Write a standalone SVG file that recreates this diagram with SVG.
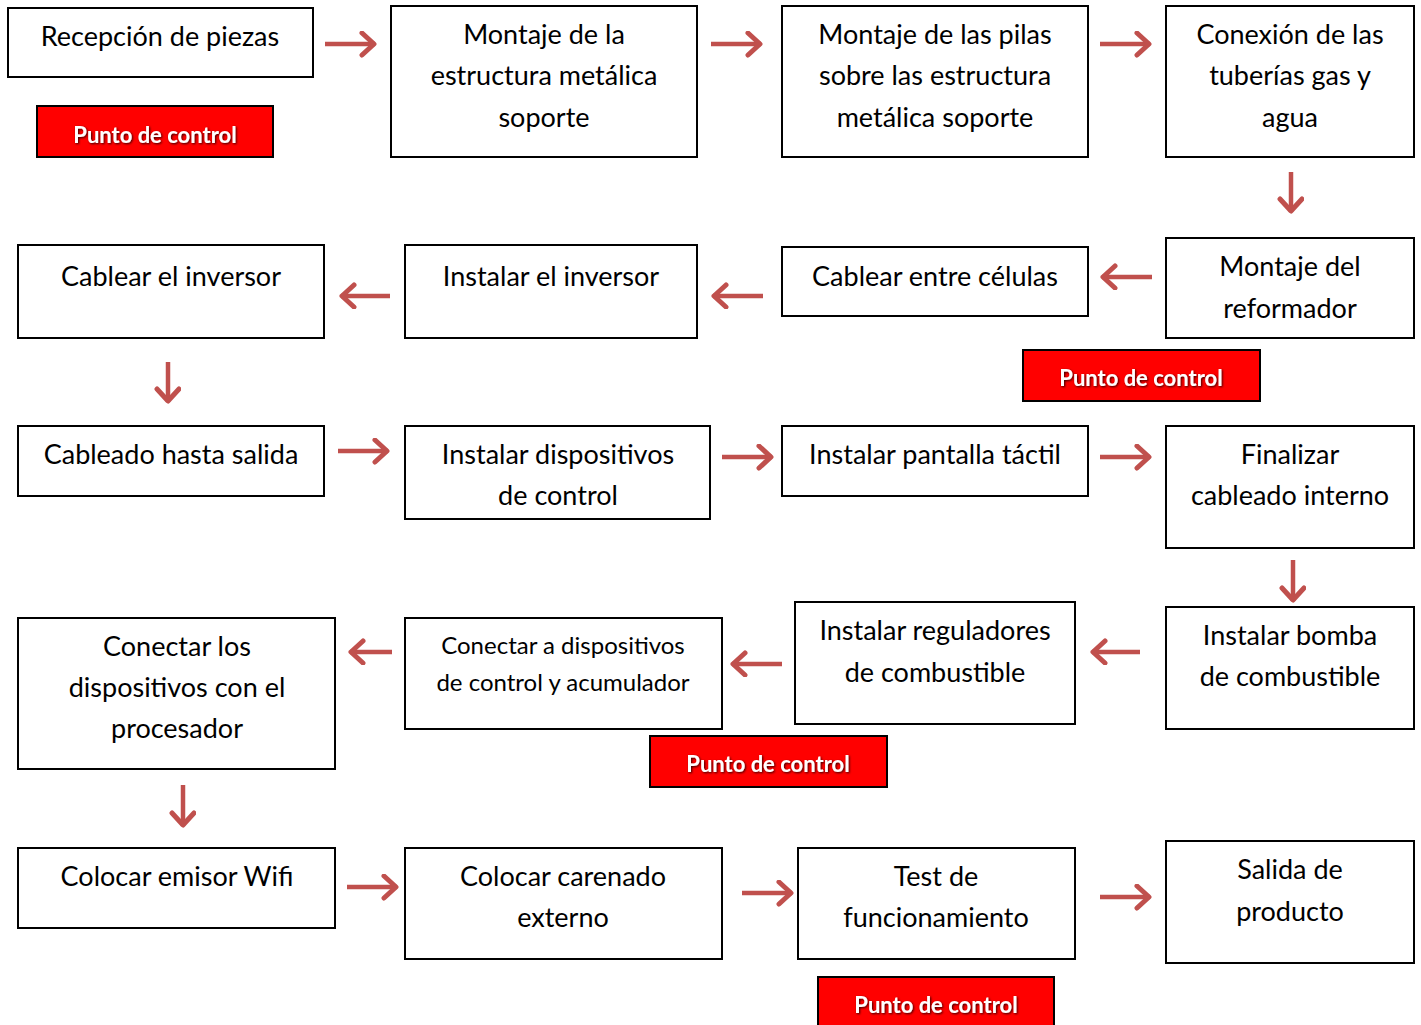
<svg xmlns="http://www.w3.org/2000/svg" width="1421" height="1025" viewBox="0 0 1421 1025">
<defs>
<style>
.box{fill:#fff;stroke:#000;stroke-width:2}
.t{font-family:Lato,"Open Sans",sans-serif;font-size:27px;fill:#000;text-anchor:middle}
.ts{font-family:Lato,"Open Sans",sans-serif;font-size:24px;fill:#000;text-anchor:middle}
.red{fill:#ff0000;stroke:#000;stroke-width:2}
.pc{font-family:Lato,"Open Sans",sans-serif;font-size:22px;font-weight:bold;fill:#fff;text-anchor:middle;filter:url(#sh)}
.arr{stroke:#C0504D;stroke-width:4.5;fill:none;marker-end:url(#ah)}
</style>
<filter id="sh" x="-10%" y="-30%" width="120%" height="160%">
<feDropShadow dx="1" dy="1" stdDeviation="0.8" flood-color="#000" flood-opacity="0.8"/>
</filter>
<marker id="ah" markerUnits="userSpaceOnUse" markerWidth="24" markerHeight="30" refX="16" refY="13" orient="auto">
<path d="M3,2 L15,13 L3,24" fill="none" stroke="#C0504D" stroke-width="5" stroke-linecap="round" stroke-linejoin="round"/>
</marker>
</defs>

<g id="connectors">
<line class="arr" x1="325" y1="44" x2="375" y2="44"/>
<line class="arr" x1="711" y1="44" x2="761" y2="44"/>
<line class="arr" x1="1100" y1="44" x2="1150" y2="44"/>
<line class="arr" x1="1291" y1="172" x2="1291" y2="212"/>
<line class="arr" x1="1152" y1="277" x2="1102" y2="277"/>
<line class="arr" x1="763" y1="296" x2="713" y2="296"/>
<line class="arr" x1="390" y1="296" x2="341" y2="296"/>
<line class="arr" x1="168" y1="362" x2="168" y2="402"/>
<line class="arr" x1="338" y1="451" x2="388" y2="451"/>
<line class="arr" x1="722" y1="457" x2="772" y2="457"/>
<line class="arr" x1="1100" y1="457" x2="1150" y2="457"/>
<line class="arr" x1="1293" y1="560" x2="1293" y2="601"/>
<line class="arr" x1="1140" y1="652" x2="1092" y2="652"/>
<line class="arr" x1="782" y1="664" x2="732" y2="664"/>
<line class="arr" x1="392" y1="652" x2="350" y2="652"/>
<line class="arr" x1="183" y1="785" x2="183" y2="826"/>
<line class="arr" x1="347" y1="887" x2="397" y2="887"/>
<line class="arr" x1="742" y1="893" x2="792" y2="893"/>
<line class="arr" x1="1100" y1="897" x2="1150" y2="897"/>
</g>

<g id="n1"><rect class="box" x="8" y="8" width="305" height="69"/><text class="t" x="160" y="46">Recepción de piezas</text></g>
<g id="pc1"><rect class="red" x="37" y="106" width="236" height="51"/><text class="pc" x="155" y="143">Punto de control</text></g>
<g id="n2"><rect class="box" x="391" y="6" width="306" height="151"/><text class="t" x="544" y="44">Montaje de la</text><text class="t" x="544" y="85">estructura metálica</text><text class="t" x="544" y="127">soporte</text></g>
<g id="n3"><rect class="box" x="782" y="6" width="306" height="151"/><text class="t" x="935" y="44">Montaje de las pilas</text><text class="t" x="935" y="85">sobre las estructura</text><text class="t" x="935" y="127">metálica soporte</text></g>
<g id="n4"><rect class="box" x="1166" y="6" width="248" height="151"/><text class="t" x="1290" y="44">Conexión de las</text><text class="t" x="1290" y="85">tuberías gas y</text><text class="t" x="1290" y="127">agua</text></g>

<g id="n5"><rect class="box" x="1166" y="238" width="248" height="100"/><text class="t" x="1290" y="276">Montaje del</text><text class="t" x="1290" y="318">reformador</text></g>
<g id="pc2"><rect class="red" x="1023" y="350" width="237" height="51"/><text class="pc" x="1141" y="386">Punto de control</text></g>
<g id="n6"><rect class="box" x="782" y="247" width="306" height="69"/><text class="t" x="935" y="286">Cablear entre células</text></g>
<g id="n7"><rect class="box" x="405" y="245" width="292" height="93"/><text class="t" x="551" y="286">Instalar el inversor</text></g>
<g id="n8"><rect class="box" x="18" y="245" width="306" height="93"/><text class="t" x="171" y="286">Cablear el inversor</text></g>

<g id="n9"><rect class="box" x="18" y="426" width="306" height="70"/><text class="t" x="171" y="464">Cableado hasta salida</text></g>
<g id="n10"><rect class="box" x="405" y="426" width="305" height="93"/><text class="t" x="558" y="464">Instalar dispositivos</text><text class="t" x="558" y="505">de control</text></g>
<g id="n11"><rect class="box" x="782" y="426" width="306" height="70"/><text class="t" x="935" y="464">Instalar pantalla táctil</text></g>
<g id="n12"><rect class="box" x="1166" y="426" width="248" height="122"/><text class="t" x="1290" y="464">Finalizar</text><text class="t" x="1290" y="505">cableado interno</text></g>

<g id="n13"><rect class="box" x="1166" y="607" width="248" height="122"/><text class="t" x="1290" y="645">Instalar bomba</text><text class="t" x="1290" y="686">de combustible</text></g>
<g id="n14"><rect class="box" x="795" y="602" width="280" height="122"/><text class="t" x="935" y="640">Instalar reguladores</text><text class="t" x="935" y="682">de combustible</text></g>
<g id="n15"><rect class="box" x="405" y="618" width="317" height="111"/><text class="ts" x="563" y="654">Conectar a dispositivos</text><text class="ts" x="563" y="691">de control y acumulador</text></g>
<g id="pc3"><rect class="red" x="650" y="736" width="237" height="51"/><text class="pc" x="768" y="772">Punto de control</text></g>
<g id="n16"><rect class="box" x="18" y="618" width="317" height="151"/><text class="t" x="177" y="656">Conectar los</text><text class="t" x="177" y="697">dispositivos con el</text><text class="t" x="177" y="738">procesador</text></g>

<g id="n17"><rect class="box" x="18" y="848" width="317" height="80"/><text class="t" x="177" y="886">Colocar emisor Wifi</text></g>
<g id="n18"><rect class="box" x="405" y="848" width="317" height="111"/><text class="t" x="563" y="886">Colocar carenado</text><text class="t" x="563" y="927">externo</text></g>
<g id="n19"><rect class="box" x="798" y="848" width="277" height="111"/><text class="t" x="936" y="886">Test de</text><text class="t" x="936" y="927">funcionamiento</text></g>
<g id="n20"><rect class="box" x="1166" y="841" width="248" height="122"/><text class="t" x="1290" y="879">Salida de</text><text class="t" x="1290" y="921">producto</text></g>
<g id="pc4"><rect class="red" x="818" y="977" width="236" height="52"/><text class="pc" x="936" y="1013">Punto de control</text></g>
</svg>
